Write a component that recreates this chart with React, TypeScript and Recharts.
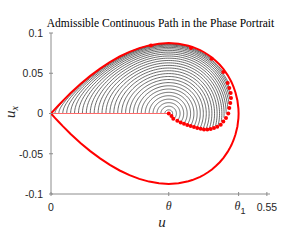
import { ComposedChart, Line, Scatter, XAxis, YAxis } from 'recharts';

const theta = 0.3;
const theta1 = 0.478;

const xTicks = [0, theta, theta1, 0.55];
const xTickLabels = ['0', 'θ', 'θ1', '0.55'];
const yTicks = [-0.1, -0.05, 0, 0.05, 0.1];
const yTickLabels = ['-0.1', '-0.05', '0', '0.05', '0.1'];

// starting points (u, 0) on the red segment, one black orbit each
const startU = [
    0.3, 0.29, 0.28, 0.27, 0.26, 0.25, 0.24, 0.23, 0.22, 0.21, 0.2, 0.19, 0.18, 0.17, 0.16, 0.15,
    0.14, 0.13, 0.12, 0.11, 0.1, 0.09, 0.08, 0.07, 0.06, 0.05, 0.04, 0.03, 0.02, 0.01, 0,
];
// red markers where each orbit stops (same order as startU)
const endU = [
    0.3, 0.307, 0.3116, 0.3218, 0.3304, 0.3389, 0.3473, 0.3559, 0.3643, 0.3727, 0.3814, 0.3898,
    0.3982, 0.4069, 0.4153, 0.4237, 0.4324, 0.439, 0.4459, 0.4517, 0.4543, 0.4568, 0.4586, 0.4578,
    0.4543, 0.4502, 0.439, 0.4094, 0.3567, 0.2548, 0,
];
const endUx = [
    0, -0.0031, -0.0065, -0.0089, -0.0111, -0.0127, -0.0143, -0.0155, -0.0168, -0.018, -0.0189,
    -0.0198, -0.0198, -0.0193, -0.018, -0.0164, -0.0139, -0.0098, -0.0056, 0.0001, 0.0068, 0.013,
    0.0193, 0.0255, 0.0317, 0.0379, 0.0516, 0.0681, 0.0814, 0.0846, 0,
];

// upper half of the red loop through the saddle (lower half is its mirror)
const loopU = [
    0, 0.01, 0.02, 0.03, 0.05, 0.075, 0.1, 0.125, 0.15, 0.175, 0.2, 0.225, 0.25, 0.275, 0.3, 0.325,
    0.35, 0.36, 0.38, 0.39, 0.4, 0.41, 0.42, 0.43, 0.44, 0.45, 0.455, 0.46, 0.465, 0.47, 0.475,
    0.4775, 0.478,
];
const loopUx = [
    0, 0.0054, 0.0106, 0.0157, 0.0254, 0.0366, 0.0467, 0.0558, 0.0639, 0.0708, 0.0766, 0.0812,
    0.0846, 0.0867, 0.0875, 0.0867, 0.0842, 0.0827, 0.0787, 0.0761, 0.073, 0.0695, 0.0653, 0.0605,
    0.0547, 0.0477, 0.0436, 0.0389, 0.0332, 0.0262, 0.0161, 0.0062, 0,
];

const axisColor = '#8c8c8c';
const textColor = '#262626';
const red = '#ff0000';

type Pt = { u: number; ux: number };

const loopData: Pt[] = [
    ...loopU.map((u, i) => ({ u, ux: loopUx[i] })),
    ...loopU
        .slice(0, -1)
        .reverse()
        .map((u, i, arr) => ({ u, ux: -loopUx[arr.length - 1 - i] })),
];

const segmentData: Pt[] = [
    { u: 0, ux: 0 },
    { u: theta, ux: 0 },
];

const markers: Pt[] = endU.map((u, i) => ({ u, ux: endUx[i] }));

// phase plane relation u_x^2/2 + F(u) = const
const F = (u: number) => (-theta * u * u) / 2 + ((1 + theta) * u ** 3) / 3 - u ** 4 / 4;

function orbit(u0: number, ue: number, uxe: number): Pt[] {
    const E = F(u0);
    let lo = theta;
    let hi = 0.5;
    for (let k = 0; k < 60; k++) {
        const m = (lo + hi) / 2;
        if (F(m) < E) lo = m;
        else hi = m;
    }
    const uR = lo;
    const n = 90;
    const pts: Pt[] = [];
    for (let k = 0; k <= n; k++) {
        const u = u0 + ((uR - u0) * (1 - Math.cos((Math.PI * k) / n))) / 2;
        pts.push({ u, ux: Math.sqrt(Math.max(0, 2 * (E - F(u)))) });
    }
    for (let k = n - 1; k >= 0; k--) {
        const u = u0 + ((uR - u0) * (1 - Math.cos((Math.PI * k) / n))) / 2;
        pts.push({ u, ux: -Math.sqrt(Math.max(0, 2 * (E - F(u)))) });
    }
    let best = 0;
    let bd = Infinity;
    pts.forEach((p, i) => {
        const d = ((p.u - ue) * 392) ** 2 + ((p.ux - uxe) * 805) ** 2;
        if (d < bd) {
            bd = d;
            best = i;
        }
    });
    return pts.slice(0, best + 1);
}

const orbits = startU
    .map((u0, i) => ({ u0, i }))
    .filter(({ u0 }) => u0 > 0 && u0 < theta)
    .map(({ u0, i }) => ({ key: u0, data: orbit(u0, endU[i], endUx[i]) }));

const BottomTick = (props: any) => {
    const { x, y, index } = props;
    const label = xTickLabels[index];
    return (
        <g>
            <line x1={x} y1={y} x2={x} y2={y - 4} stroke={axisColor} />
            {label === 'θ' ? (
                <text x={x} y={y + 14} textAnchor='middle' fontFamily='Liberation Serif' fontStyle='italic' fontSize={12} fill={textColor}>
                    θ
                </text>
            ) : label === 'θ1' ? (
                <text x={x - 4} y={y + 14} fontFamily='Liberation Serif' fontSize={12} fill={textColor}>
                    <tspan fontStyle='italic'>θ</tspan>
                    <tspan dy={4} fontSize={9} fontFamily='Liberation Sans'>
                        1
                    </tspan>
                </text>
            ) : (
                <text x={x} y={y + 14.5} textAnchor='middle' fontFamily='Liberation Sans' fontSize={10.5} fill={textColor}>
                    {label}
                </text>
            )}
        </g>
    );
};

const TopTick = (props: any) => {
    const { x, y } = props;
    return <line x1={x} y1={y} x2={x} y2={y + 4} stroke={axisColor} />;
};

const LeftTick = (props: any) => {
    const { x, y, index } = props;
    return (
        <g>
            <line x1={x} y1={y} x2={x + 4} y2={y} stroke={axisColor} />
            <text x={x - 6} y={y + 3.8} textAnchor='end' fontFamily='Liberation Sans' fontSize={10.5} fill={textColor}>
                {yTickLabels[index]}
            </text>
        </g>
    );
};

const RightTick = (props: any) => {
    const { x, y } = props;
    return <line x1={x} y1={y} x2={x - 4} y2={y} stroke={axisColor} />;
};

const Marker = (props: any) => {
    const { cx, cy } = props;
    return <circle cx={cx} cy={cy} r={2} fill={red} />;
};

export default function App() {
    return (
        <div style={{ position: 'absolute', left: 0, top: 0, width: 300, height: 250, background: '#fff' }}>
            <ComposedChart width={300} height={250} margin={{ top: 33, right: 30, bottom: 0, left: 0 }}>
                <XAxis
                    dataKey='u'
                    type='number'
                    domain={[0, 0.558]}
                    ticks={xTicks}
                    interval={0}
                    allowDataOverflow
                    height={56}
                    tickSize={0}
                    tickLine={false}
                    tick={<BottomTick />}
                    stroke={axisColor}
                />
                <XAxis
                    xAxisId='top'
                    orientation='top'
                    type='number'
                    domain={[0, 0.558]}
                    ticks={xTicks}
                    interval={0}
                    allowDataOverflow
                    height={0}
                    tickSize={0}
                    tickLine={false}
                    tick={<TopTick />}
                    stroke={axisColor}
                />
                <YAxis
                    dataKey='ux'
                    type='number'
                    domain={[-0.1, 0.1]}
                    ticks={yTicks}
                    interval={0}
                    allowDataOverflow
                    width={51}
                    tickSize={0}
                    tickLine={false}
                    tick={<LeftTick />}
                    stroke={axisColor}
                />
                <YAxis
                    yAxisId='right'
                    orientation='right'
                    type='number'
                    domain={[-0.1, 0.1]}
                    ticks={yTicks}
                    interval={0}
                    allowDataOverflow
                    width={0}
                    tickSize={0}
                    tickLine={false}
                    tick={<RightTick />}
                    stroke={axisColor}
                />
                {orbits.map((o) => (
                    <Line
                        key={`orbit-${o.key}`}
                        data={o.data}
                        dataKey='ux'
                        type='linear'
                        stroke='#3a3a3a'
                        strokeWidth={0.75}
                        dot={false}
                        activeDot={false}
                        isAnimationActive={false}
                    />
                ))}
                <Line
                    data={segmentData}
                    dataKey='ux'
                    type='linear'
                    stroke='#ff6a6a'
                    strokeWidth={1}
                    dot={false}
                    activeDot={false}
                    isAnimationActive={false}
                />
                <Line
                    data={loopData}
                    dataKey='ux'
                    type='linear'
                    stroke={red}
                    strokeWidth={2}
                    dot={false}
                    activeDot={false}
                    isAnimationActive={false}
                />
                <Scatter data={markers} dataKey='ux' shape={<Marker />} isAnimationActive={false} />
            </ComposedChart>
            <svg width={300} height={250} style={{ position: 'absolute', left: 0, top: 0, pointerEvents: 'none' }}>
                <text x={160.5} y={27.3} textAnchor='middle' fontFamily='Liberation Serif' fontSize={11.5} fill='#000'>
                    Admissible Continuous Path in the Phase Portrait
                </text>
                <text x={162} y={226.5} textAnchor='middle' fontFamily='Liberation Serif' fontStyle='italic' fontSize={15} fill={textColor}>
                    u
                </text>
                <text transform='translate(15,118) rotate(-90)' fontFamily='Liberation Serif' fontSize={15} fill={textColor}>
                    <tspan fontStyle='italic'>u</tspan>
                    <tspan fontStyle='italic' fontSize={10} dy={3}>
                        x
                    </tspan>
                </text>
            </svg>
        </div>
    );
}
